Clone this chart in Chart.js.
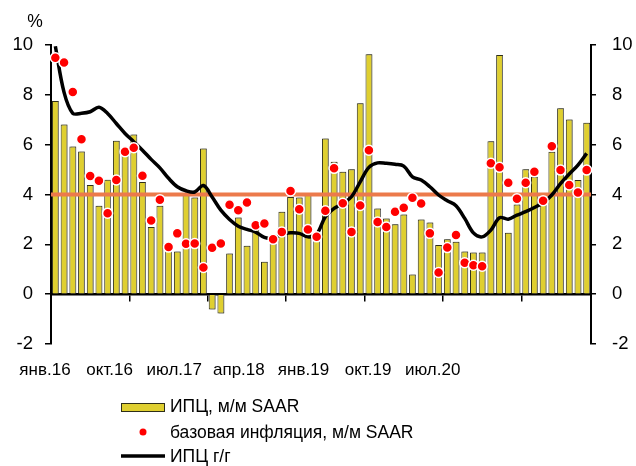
<!DOCTYPE html>
<html><head><meta charset="utf-8">
<script src="https://cdn.jsdelivr.net/npm/chart.js@4/dist/chart.umd.min.js"></script>
<style>html,body{margin:0;padding:0;background:#fff;}#wrap{width:636px;height:466px;}</style>
</head><body><div id="wrap"><canvas id="c" width="636" height="466"></canvas></div>
<script>
const categories = [
 'янв.16','фев.16','мар.16','апр.16','май.16','июн.16','июл.16','авг.16','сен.16','окт.16','ноя.16','дек.16',
 'янв.17','фев.17','мар.17','апр.17','май.17','июн.17','июл.17','авг.17','сен.17','окт.17','ноя.17','дек.17',
 'янв.18','фев.18','мар.18','апр.18','май.18','июн.18','июл.18','авг.18','сен.18','окт.18','ноя.18','дек.18',
 'янв.19','фев.19','мар.19','апр.19','май.19','июн.19','июл.19','авг.19','сен.19','окт.19','ноя.19','дек.19',
 'янв.20','фев.20','мар.20','апр.20','май.20','июн.20','июл.20','авг.20','сен.20','окт.20','ноя.20','дек.20',
 'янв.21','фев.21'];
const cpiMoM = [7.75,6.81,5.93,5.73,4.38,3.55,4.59,6.16,5.6,6.41,4.5,2.70,
 3.55,1.77,1.71,4.04,3.88,5.85,-0.62,-0.78,1.63,3.08,1.94,2.84,
 1.30,2.03,3.31,3.9,3.88,3.98,2.35,6.25,5.31,4.91,5.01,7.66,
 9.63,3.44,3.04,2.81,3.2,0.79,3.0,2.88,1.97,2.2,2.1,1.71,
 1.67,1.67,6.14,9.60,2.46,3.6,5.01,4.71,3.6,5.72,7.46,7.01,
 4.58,6.88];
const coreMoM = [9.49,9.30,8.11,6.22,4.74,4.55,3.25,4.58,5.72,5.88,4.75,2.96,
 3.79,1.89,2.44,2.02,2.03,1.07,1.86,2.03,3.59,3.37,3.68,2.77,
 2.84,2.20,2.50,4.14,3.41,2.60,2.30,3.35,5.05,3.65,2.50,3.56,
 5.78,2.90,2.70,3.31,3.47,3.87,3.64,2.44,0.87,1.87,2.37,1.26,
 1.16,1.12,5.25,5.09,4.47,3.83,4.47,4.91,3.75,5.94,4.98,4.38,
 4.08,4.98];
const cpiYoY = [9.95,8.1,7.26,7.26,7.32,7.5,7.25,6.85,6.45,6.12,5.78,5.41,
 5.07,4.65,4.31,4.15,4.10,4.36,3.9,3.37,3.0,2.73,2.60,2.49,
 2.28,2.24,2.41,2.46,2.44,2.30,2.41,3.11,3.44,3.64,3.91,4.51,
 5.09,5.27,5.25,5.21,5.14,4.71,4.58,4.31,3.98,3.75,3.55,3.04,
 2.46,2.30,2.57,3.07,3.01,3.17,3.31,3.48,3.67,3.98,4.44,4.82,
 5.18,5.65];
const TARGET = 4;
const tickLabels = ['янв.16','окт.16','июл.17','апр.18','янв.19','окт.19','июл.20'];
const tickLabelPos = [0,9,18,27,36,45,54];
const yTicks = [-2,0,2,4,6,8,10];

const FONT = "'Liberation Sans', Arial, sans-serif";
Chart.defaults.font.family = FONT;
Chart.defaults.font.size = 17;
Chart.defaults.color = '#000';

const BAR_FILL = '#DFCF30', BAR_EDGE = '#2e2e18', DOT = '#FF0000', LINE = '#000000', TARGET_COL = '#EC7A4B';

const barShadow = {
  id: 'barShadow',
  beforeDatasetDraw(chart, args) {
    if (args.index !== 0) return;
    const ctx = chart.ctx;
    ctx.save();
    ctx.shadowColor = 'rgba(120,120,120,0.85)';
    ctx.shadowOffsetX = 1.5; ctx.shadowOffsetY = 0; ctx.shadowBlur = 0;
  },
  afterDatasetDraw(chart, args) {
    if (args.index !== 0) return;
    const {ctx, chartArea: a, scales: {y}} = chart;
    ctx.restore();
    const py = y.getPixelForValue(TARGET);
    ctx.save();
    ctx.strokeStyle = TARGET_COL; ctx.lineWidth = 4;
    ctx.beginPath(); ctx.moveTo(a.left, py); ctx.lineTo(a.right, py); ctx.stroke();
    ctx.restore();
  }
};

const customLegend = {
  id: 'customLegend',
  afterDraw(chart) {
    const ctx = chart.ctx;
    const ds = chart.data.datasets;
    ctx.save();
    ctx.fillStyle = '#000';
    ctx.textBaseline = 'alphabetic';
    ctx.font = '17.5px ' + FONT;
    ctx.textAlign = 'center';
    ctx.fillText('%', 35, 27);
    ctx.textAlign = 'left';
    const x0 = 121, w = 44, tx = 170;
    ctx.fillStyle = BAR_FILL; ctx.strokeStyle = BAR_EDGE; ctx.lineWidth = 1;
    ctx.fillRect(x0, 403, w, 9); ctx.strokeRect(x0 + 0.5, 403.5, w - 1, 8);
    ctx.fillStyle = '#000'; ctx.fillText(ds[0].label, tx, 412);
    ctx.fillStyle = DOT; ctx.beginPath(); ctx.arc(x0 + w / 2, 432, 3.5, 0, Math.PI * 2); ctx.fill();
    ctx.fillStyle = '#000'; ctx.fillText(ds[1].label, tx, 438);
    ctx.strokeStyle = LINE; ctx.lineWidth = 3.5;
    ctx.beginPath(); ctx.moveTo(x0, 456); ctx.lineTo(x0 + w, 456); ctx.stroke();
    ctx.fillText(ds[2].label, tx, 462);
    ctx.restore();
  }
};

new Chart(document.getElementById('c'), {
  data: {
    labels: categories,
    datasets: [
      {type: 'bar', label: 'ИПЦ, м/м SAAR', data: cpiMoM, backgroundColor: BAR_FILL, borderColor: BAR_EDGE,
       borderWidth: 1, barPercentage: 0.78, categoryPercentage: 1, order: 3, xAxisID: 'x', yAxisID: 'y'},
      {type: 'line', label: 'базовая инфляция, м/м SAAR', data: coreMoM, showLine: false, pointRadius: 5,
       pointBackgroundColor: DOT, pointBorderColor: '#fff', pointBorderWidth: 1.5, order: 1, xAxisID: 'x', yAxisID: 'y'},
      {type: 'line', label: 'ИПЦ г/г', data: cpiYoY, borderColor: LINE, borderWidth: 3.5, pointRadius: 0,
       tension: 0.35, fill: false, order: 2, xAxisID: 'x', yAxisID: 'y'}
    ]
  },
  options: {
    responsive: false, animation: false, devicePixelRatio: 1,
    layout: {padding: {top: 45, left: 0, right: 0, bottom: 0}},
    plugins: {legend: {display: false}, tooltip: {enabled: false}},
    scales: {
      x: {type: 'category', position: {y: 0}, offset: true,
          grid: {drawOnChartArea: false, drawTicks: true, tickLength: 6, lineWidth: 1.5, offset: true,
                 color: (c) => (c.index > 0 && c.index % 9 === 0) ? '#000' : 'rgba(0,0,0,0)'},
          border: {display: true, color: '#000', width: 2.5},
          ticks: {display: false, autoSkip: false}},
      x2: {type: 'linear', position: 'bottom', min: 0.836, max: 76.05,
           grid: {display: false, drawTicks: false}, border: {display: false},
           afterBuildTicks: (s) => { s.ticks = tickLabelPos.map(v => ({value: v})); },
           ticks: {autoSkip: false, maxRotation: 0, padding: 16, callback: (v, i) => tickLabels[i]},
           afterFit: (s) => { s.height = 122; }},
      y: {position: 'left', min: -2, max: 10,
          afterBuildTicks: (s) => { s.ticks = yTicks.map(v => ({value: v})); },
          ticks: {padding: 12, font: {size: 18.5}},
          grid: {drawOnChartArea: false, tickLength: 6, color: '#000', lineWidth: 1.5},
          border: {color: '#000', width: 2},
          afterFit: (s) => { s.width = 51; }},
      y2: {position: 'right', min: -2, max: 10,
          afterBuildTicks: (s) => { s.ticks = yTicks.map(v => ({value: v})); },
          ticks: {padding: 16, font: {size: 18.5}},
          grid: {drawOnChartArea: false, tickLength: 5, color: '#000', lineWidth: 1.5},
          border: {color: '#000', width: 2},
          afterFit: (s) => { s.width = 45; }}
    }
  },
  plugins: [barShadow, customLegend]
});
</script></body></html>
